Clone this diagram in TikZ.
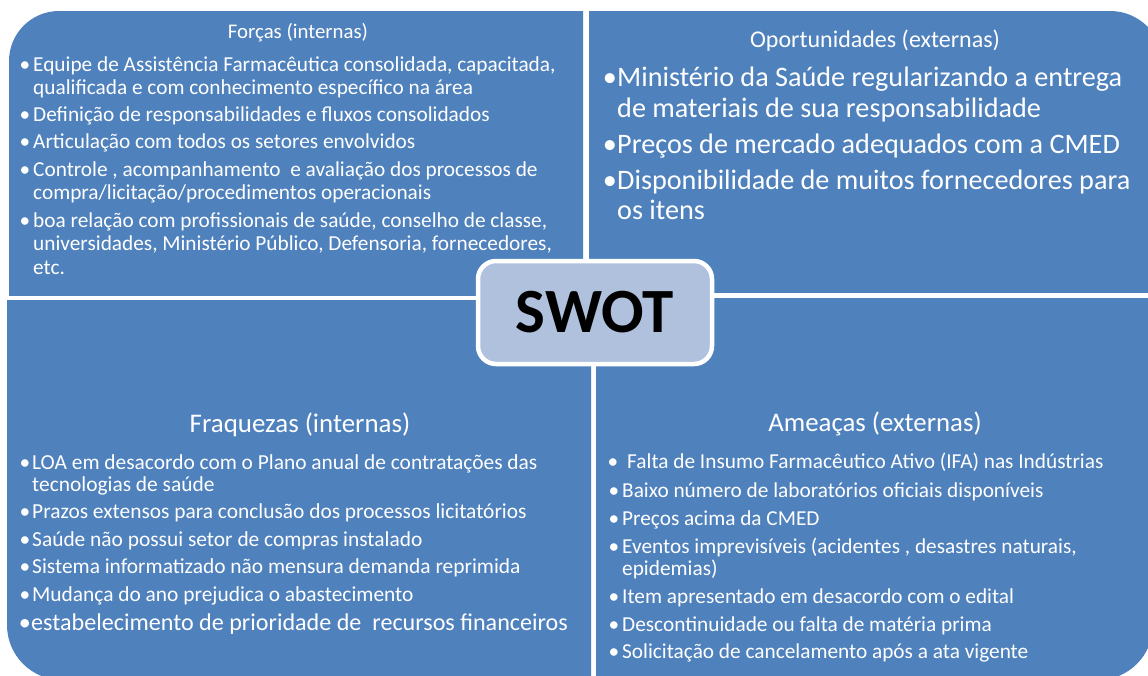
\documentclass[tikz,border=0pt]{standalone}
\usepackage{fontspec}
\setmainfont{Carlito}
\definecolor{panel}{HTML}{4F81BD}
\definecolor{swotfill}{HTML}{B0C1DE}
\tikzset{
  fs/.style={font=\fontsize{#1}{#1}\selectfont},
  txt/.style={text=white, inner sep=0pt, anchor=base west},
  bul/.style={text=white, inner sep=0pt, anchor=base},
  ttl/.style={text=white, inner sep=0pt, anchor=base},
}
\begin{document}
\begin{tikzpicture}[x=1pt,y=-1pt]
\useasboundingbox (0,0) rectangle (1148,675);
\fill[white] (0,0) rectangle (1148,675);
% panels
\begin{scope}
  \clip (0,0) rectangle (583,295);
  \fill[panel,rounded corners=50pt] (9,11) rectangle (700,420);
\end{scope}
\begin{scope}
  \clip (589,0) rectangle (1148,292);
  \fill[panel,rounded corners=53pt] (450,11) rectangle (1163,420);
\end{scope}
\begin{scope}
  \clip (0,300) rectangle (591,675);
  \fill[panel,rounded corners=55pt] (7,180) rectangle (700,680);
\end{scope}
\begin{scope}
  \clip (596,298) rectangle (1148,675);
  \fill[panel,rounded corners=55pt] (450,180) rectangle (1153,680);
\end{scope}

% Forças
\node[ttl,fs=20.8] (tF) at (298,38.5) {Forças (internas)};
\begin{scope}[every node/.append style={fs=21.3}]
\node[bul] (bF1) at (25,71.2) {•};
\node[txt] (F1a) at (33,71.2) {Equipe de Assistência Farmacêutica consolidada, capacitada,};
\node[txt] (F1b) at (33,94) {qualificada e com conhecimento específico na área};
\node[bul] (bF2) at (25,121.7) {•};
\node[txt] (F2) at (33,121.7) {Definição de responsabilidades e fluxos consolidados};
\node[bul] (bF3) at (25,148.5) {•};
\node[txt] (F3) at (33,148.5) {Articulação com todos os setores envolvidos};
\node[bul] (bF4) at (25,176.5) {•};
\node[txt] (F4a) at (33,176.5) {Controle , acompanhamento\ \ e avaliação dos processos de};
\node[txt] (F4b) at (33,199.5) {compra/licitação/procedimentos operacionais};
\node[bul] (bF5) at (25,227) {•};
\node[txt] (F5a) at (33,227) {boa relação com profissionais de saúde, conselho de classe,};
\node[txt] (F5b) at (33,250) {universidades, Ministério Público, Defensoria, fornecedores,};
\node[txt] (F5c) at (33,274) {etc.};
\end{scope}

% Oportunidades
\node[ttl,fs=24] (tO) at (875,47) {Oportunidades (externas)};
\begin{scope}[every node/.append style={fs=28.2}]
\node[bul] (bO1) at (610,86.5) {•};
\node[txt] (O1a) at (617,86.5) {Ministério da Saúde regularizando a entrega};
\node[txt] (O1b) at (617,117) {de materiais de sua responsabilidade};
\node[bul] (bO2) at (610,153.5) {•};
\node[txt] (O2) at (617,153.5) {Preços de mercado adequados com a CMED};
\node[bul] (bO3) at (610,189.5) {•};
\node[txt] (O3a) at (617,189.5) {Disponibilidade de muitos fornecedores para};
\node[txt] (O3b) at (617,219.5) {os itens};
\end{scope}

% Fraquezas
\node[ttl,fs=26.9] (tW) at (300,432.5) {Fraquezas (internas)};
\begin{scope}[every node/.append style={fs=21.4}]
\node[bul] (bW1) at (25,469) {•};
\node[txt] (W1a) at (32,469) {LOA em desacordo com o Plano anual de contratações das};
\node[txt] (W1b) at (32,491) {tecnologias de saúde};
\node[bul] (bW2) at (25,518.5) {•};
\node[txt] (W2) at (32,518.5) {Prazos extensos para conclusão dos processos licitatórios};
\node[bul] (bW3) at (25,546.5) {•};
\node[txt] (W3) at (32,546.5) {Saúde não possui setor de compras instalado};
\node[bul] (bW4) at (25,573.5) {•};
\node[txt] (W4) at (32,573.5) {Sistema informatizado não mensura demanda reprimida};
\node[bul] (bW5) at (25,601.5) {•};
\node[txt] (W5) at (32,601.5) {Mudança do ano prejudica o abastecimento};
\end{scope}
\node[bul,fs=24.1] (bW6) at (25,630.5) {•};
\node[txt,fs=24.1] (W6) at (31,630.5) {estabelecimento de prioridade de\ \ recursos financeiros};

% Ameaças
\node[ttl,fs=26.8] (tT) at (875,431) {Ameaças (externas)};
\begin{scope}[every node/.append style={fs=21.3}]
\node[bul] (bT1) at (613,468.5) {•};
\node[txt] (T1) at (627,468.5) {Falta de Insumo Farmacêutico Ativo (IFA) nas Indústrias};
\node[bul] (bT2) at (614,497) {•};
\node[txt] (T2) at (622,497) {Baixo número de laboratórios oficiais disponíveis};
\node[bul] (bT3) at (614,525) {•};
\node[txt] (T3) at (622,525) {Preços acima da CMED};
\node[bul] (bT4) at (614,553.5) {•};
\node[txt] (T4a) at (622,553.5) {Eventos imprevisíveis (acidentes , desastres naturais,};
\node[txt] (T4b) at (622,575) {epidemias)};
\node[bul] (bT5) at (614,603.5) {•};
\node[txt] (T5) at (622,603.5) {Item apresentado em desacordo com o edital};
\node[bul] (bT6) at (614,631) {•};
\node[txt] (T6) at (622,631) {Descontinuidade ou falta de matéria prima};
\node[bul] (bT7) at (614,658.5) {•};
\node[txt] (T7) at (622,658.5) {Solicitação de cancelamento após a ata vigente};
\end{scope}

% SWOT
\node[draw=white, line width=4.5pt, fill=swotfill, rounded corners=18pt,
      minimum width=234pt, minimum height=103pt, inner sep=0pt,
      font=\fontsize{63}{63}\selectfont\bfseries] (swot) at (595,312.5) {SWOT};
\end{tikzpicture}
\end{document}
